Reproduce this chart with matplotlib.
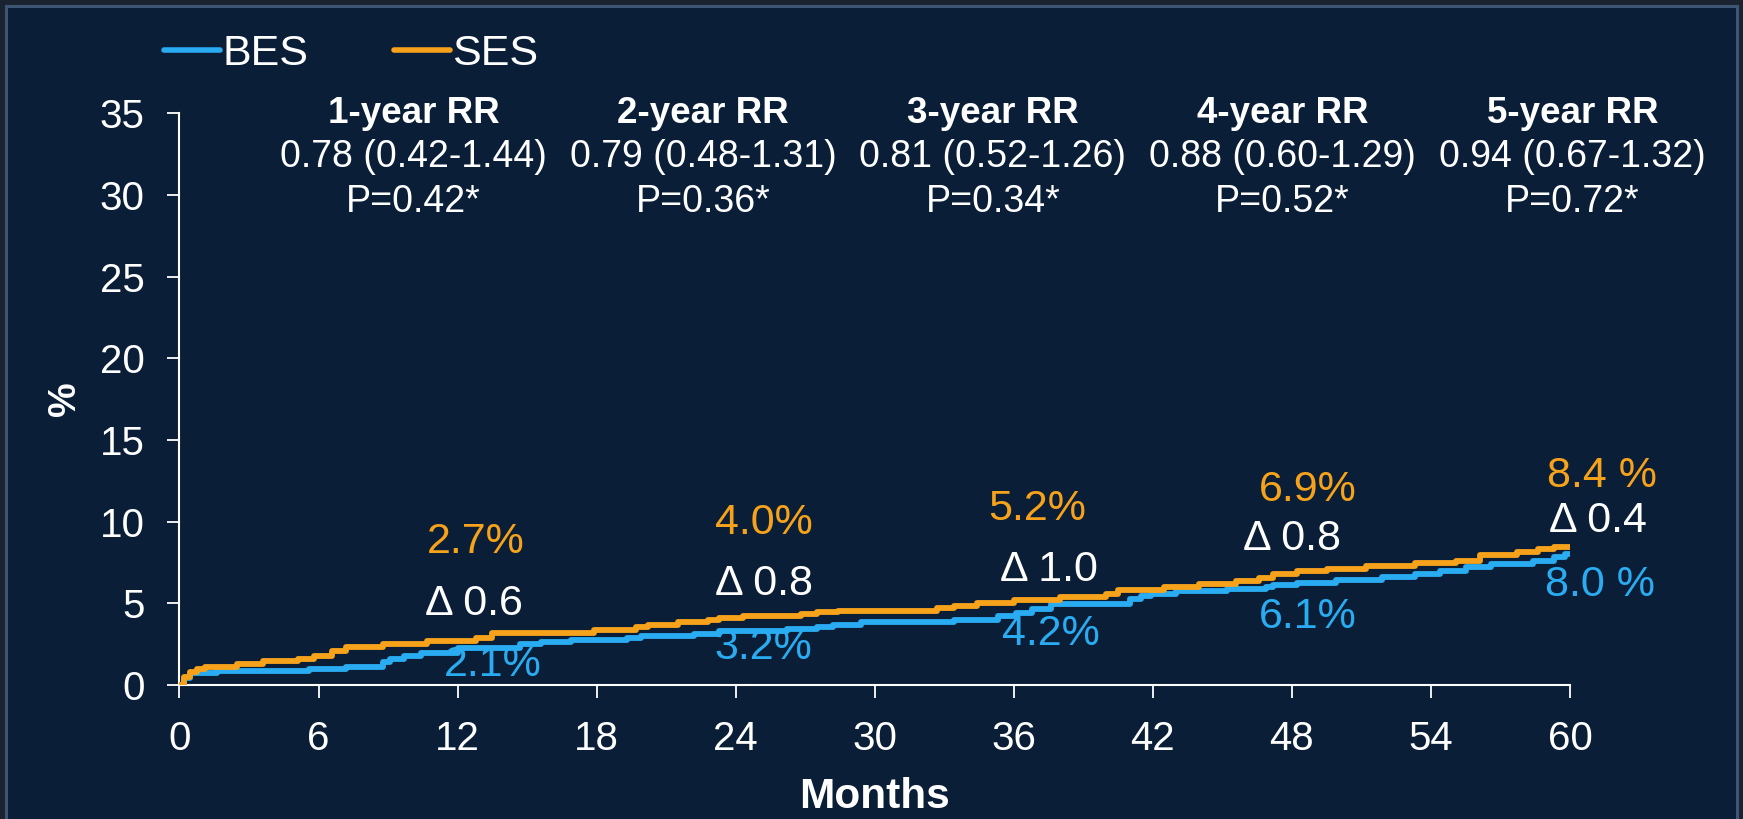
import matplotlib
matplotlib.use('Agg')
import matplotlib.pyplot as plt
from matplotlib.lines import Line2D
from matplotlib.patches import Rectangle

plt.rcParams['font.family'] = ['Liberation Sans', 'DejaVu Sans']

# кумулятивная частота событий, % (ступенчатые кривые Каплана-Мейера)
bes_months = [0, 0.2, 0.45, 1.6, 5.6, 7.2, 8.8, 9.1, 9.7, 10.4, 12.0, 14.7, 15.6,
              16.9, 19.3, 19.9, 22.2, 23.3, 26.2, 27.5, 28.2, 29.4, 33.4, 35.3,
              36.1, 36.8, 37.6, 41.0, 41.5, 41.9, 43.0, 45.2, 46.9, 47.2, 48.2,
              49.9, 51.9, 53.3, 54.4, 55.5, 56.6, 58.4, 59.3, 59.8, 60]
bes_pct = [0, 0.45, 0.72, 0.87, 0.97, 1.08, 1.42, 1.59, 1.77, 1.93, 2.24, 2.54, 2.64,
           2.74, 2.9, 3.03, 3.15, 3.29, 3.43, 3.56, 3.7, 3.84, 4.0, 4.2,
           4.41, 4.68, 4.94, 5.25, 5.45, 5.6, 5.75, 5.9, 6.03, 6.1, 6.24,
           6.4, 6.61, 6.81, 6.95, 7.22, 7.38, 7.58, 7.83, 8.0, 8.0]

ses_months = [0, 0.2, 0.45, 0.75, 1.1, 2.5, 3.6, 5.1, 5.8, 6.6, 7.2, 8.8, 10.7, 12.8,
              13.5, 17.9, 19.7, 20.2, 21.5, 22.8, 23.3, 24.3, 26.8, 27.5, 28.4, 32.7,
              33.4, 34.4, 36.0, 38.0, 40.0, 40.5, 42.5, 44.0, 45.6, 46.6, 47.2, 48.2,
              49.5, 51.2, 53.3, 55.1, 56.1, 57.7, 58.6, 59.3, 60]
ses_pct = [0, 0.5, 0.8, 0.95, 1.1, 1.3, 1.5, 1.6, 1.75, 2.1, 2.3, 2.5, 2.7, 2.9,
           3.2, 3.35, 3.55, 3.7, 3.85, 4.0, 4.1, 4.25, 4.35, 4.45, 4.55, 4.7,
           4.85, 5.0, 5.2, 5.4, 5.6, 5.8, 6.0, 6.2, 6.35, 6.55, 6.8, 6.95,
           7.1, 7.3, 7.45, 7.6, 7.95, 8.15, 8.3, 8.45, 8.45]

rr_titles = ['1-year RR', '2-year RR', '3-year RR', '4-year RR', '5-year RR']
rr_values = ['0.78 (0.42-1.44)', '0.79 (0.48-1.31)', '0.81 (0.52-1.26)',
             '0.88 (0.60-1.29)', '0.94 (0.67-1.32)']
rr_p = ['P=0.42*', 'P=0.36*', 'P=0.34*', 'P=0.52*', 'P=0.72*']
ses_labels = ['2.7%', '4.0%', '5.2%', '6.9%', '8.4 %']
bes_labels = ['2.1%', '3.2%', '4.2%', '6.1%', '8.0 %']
delta_labels = ['Δ 0.6', 'Δ 0.8', 'Δ 1.0', 'Δ 0.8', 'Δ 0.4']

BLUE = '#2aacf2'
ORANGE = '#f7a21b'
NAVY = '#0a1f37'
WHITE = '#ffffff'

fig = plt.figure(figsize=(17.43, 8.19), dpi=100, facecolor='#1b2330')
fig.patches.append(Rectangle((6 / 1743, -0.02), 1731 / 1743, 813 / 819 + 0.02,
                             transform=fig.transFigure, facecolor=NAVY,
                             edgecolor='#3d5674', lw=2.2, zorder=-10))

ax = fig.add_axes([0.10298, 0.16361, 0.79776, 0.69805])
ax.set_facecolor('none')

ax.step(bes_months, bes_pct, where='post', color=BLUE, lw=4.2, zorder=3)
ax.step(ses_months, ses_pct, where='post', color=ORANGE, lw=4.2, zorder=3)

ax.set_xlim(0, 60)
ax.set_ylim(0, 35)
ax.set_xticks(range(0, 61, 6))
ax.set_yticks(range(0, 36, 5))
for s in ['top', 'right']:
    ax.spines[s].set_visible(False)
for s in ['left', 'bottom']:
    ax.spines[s].set_color(WHITE)
    ax.spines[s].set_linewidth(1.5)
ax.tick_params(colors=WHITE, labelsize=29, length=9, width=1.3)
ax.tick_params(axis='y', pad=16)
ax.tick_params(axis='x', pad=16)

ax.set_xlabel('Months', color=WHITE, fontsize=30.5, fontweight='bold', labelpad=14)
ax.set_ylabel('%', color=WHITE, fontsize=28, fontweight='bold', labelpad=12)

# подписи RR сверху
rr_x = [10.1, 22.6, 35.1, 47.6, 60.1]
for i in range(5):
    ax.text(rr_x[i], 35.0, rr_titles[i], color=WHITE, fontsize=26.5, fontweight='bold',
            ha='center', va='center', clip_on=False)
    ax.text(rr_x[i], 32.3, rr_values[i], color=WHITE, fontsize=27,
            ha='center', va='center', clip_on=False)
    ax.text(rr_x[i], 29.6, rr_p[i], color=WHITE, fontsize=27,
            ha='center', va='center', clip_on=False)

# значения в точках 1..5 лет
ses_xy = [(12.8, 8.76), (25.2, 9.9), (37.0, 10.8), (48.7, 11.95), (61.4, 12.8)]
delta_xy = [(12.7, 4.96), (25.2, 6.2), (37.5, 7.07), (48.0, 8.96), (61.2, 10.05)]
bes_xy = [(13.5, 1.24), (25.2, 2.25), (37.6, 3.13), (48.7, 4.15), (61.3, 6.1)]
for i in range(5):
    ax.text(*ses_xy[i], ses_labels[i], color=ORANGE, fontsize=31,
            ha='center', va='center', clip_on=False)
    ax.text(*delta_xy[i], delta_labels[i], color=WHITE, fontsize=31,
            ha='center', va='center', clip_on=False)
    ax.text(*bes_xy[i], bes_labels[i], color=BLUE, fontsize=31,
            ha='center', va='center', clip_on=False, zorder=2)

handles = [Line2D([], [], color=BLUE, lw=4, solid_capstyle='round'),
           Line2D([], [], color=ORANGE, lw=4, solid_capstyle='round')]
leg = fig.legend(handles, ['BES', 'SES'], loc='center left',
                 bbox_to_anchor=(164 / 1743, 1 - 54 / 819), ncol=2, frameon=False,
                 fontsize=31, handlelength=1.3, handletextpad=0.05,
                 columnspacing=2.0, borderpad=0, borderaxespad=0)
for t in leg.get_texts():
    t.set_color(WHITE)

fig.savefig('out.png', dpi=100, facecolor=fig.get_facecolor())
